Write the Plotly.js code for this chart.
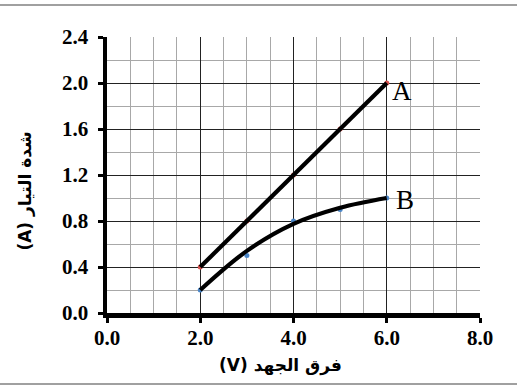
<!DOCTYPE html>
<html>
<head>
<meta charset="utf-8">
<script src="https://cdn.plot.ly/plotly-3.0.1.min.js"></script>
<style>html,body{margin:0;padding:0;background:#fff;}#chart{width:517px;height:389px;}</style>
</head>
<body>
<div id="chart"></div>
<script>
// Data
const voltage = [2, 3, 4, 5, 6];
const currentA = [0.4, 0.8, 1.2, 1.6, 2.0];
const currentB = [0.2, 0.5, 0.8, 0.9, 1.0];
// smooth curve drawn through B
const curveB = [0.2, 0.54, 0.775, 0.915, 1.0];
const seriesLabels = ['A', 'B'];
const xTitle = '(V) فرق الجهد';
const yTitle = '(A) شدة التيار';

const traces = [
  {x: voltage, y: currentA, mode: 'markers', marker: {color: '#d9534f', size: 5}, showlegend: false},
  {x: voltage, y: currentB, mode: 'markers', marker: {color: '#4a86c8', size: 5}, showlegend: false},
  {x: voltage, y: currentA, mode: 'lines', line: {color: '#000', width: 4.2}, showlegend: false, name: seriesLabels[0]},
  {x: voltage, y: curveB, mode: 'lines', line: {color: '#000', width: 4.2, shape: 'spline', smoothing: 1}, showlegend: false, name: seriesLabels[1]}
];

const tickFont = {family: '"Liberation Serif", "Times New Roman", serif', size: 21, color: '#000', weight: 'bold'};
const titleFont = {family: '"DejaVu Sans", "Liberation Sans", sans-serif', size: 17, color: '#000', weight: 'bold'};
const labelFont = {family: '"Liberation Serif", "Times New Roman", serif', size: 27, color: '#000'};

const layout = {
  width: 517, height: 389,
  margin: {l: 107, r: 37, t: 37, b: 76},
  paper_bgcolor: '#fff', plot_bgcolor: '#fff',
  showlegend: false,
  xaxis: {
    range: [0, 8], dtick: 2, tick0: 0, tickformat: '.1f',
    showline: true, linecolor: '#000', linewidth: 4.5,
    ticks: 'outside', ticklen: 5, tickwidth: 3, tickcolor: '#000', ticklabelstandoff: -3,
    showgrid: true, gridcolor: '#222', gridwidth: 1, zeroline: false,
    minor: {dtick: 0.5, showgrid: true, gridcolor: '#a8a8a8', gridwidth: 1, ticks: ''},
    tickfont: tickFont
  },
  yaxis: {
    range: [0, 2.4], dtick: 0.4, tick0: 0, tickformat: '.1f',
    showline: true, linecolor: '#000', linewidth: 4.5,
    ticks: 'outside', ticklen: 5, tickwidth: 3, tickcolor: '#000', ticklabelstandoff: 5,
    showgrid: true, gridcolor: '#222', gridwidth: 1, zeroline: false,
    minor: {dtick: 0.2, showgrid: true, gridcolor: '#a8a8a8', gridwidth: 1, ticks: ''},
    tickfont: tickFont
  },
  annotations: [
    {x: voltage[4], y: currentA[4], text: seriesLabels[0], showarrow: false, xanchor: 'left', yanchor: 'middle', xshift: 3, yshift: -8, font: labelFont},
    {x: voltage[4], y: curveB[4], text: seriesLabels[1], showarrow: false, xanchor: 'left', yanchor: 'middle', xshift: 7, yshift: -2, font: labelFont},
    {xref: 'paper', yref: 'paper', x: 0.464, y: -0.19, text: xTitle, showarrow: false, xanchor: 'center', yanchor: 'middle', font: titleFont},
    {xref: 'paper', yref: 'paper', x: -0.221, y: 0.442, text: yTitle, showarrow: false, textangle: -90, xanchor: 'center', yanchor: 'middle', font: titleFont}
  ],
  shapes: [
    {type: 'line', xref: 'paper', yref: 'paper', x0: -1, x1: 2, y0: 1.116, y1: 1.116, line: {color: '#a0a0a0', width: 2}},
    {type: 'line', xref: 'paper', yref: 'paper', x0: -1, x1: 2, y0: -0.257, y1: -0.257, line: {color: '#a0a0a0', width: 2}}
  ]
};

Plotly.newPlot('chart', traces, layout, {displayModeBar: false, staticPlot: true});
</script>
</body>
</html>
